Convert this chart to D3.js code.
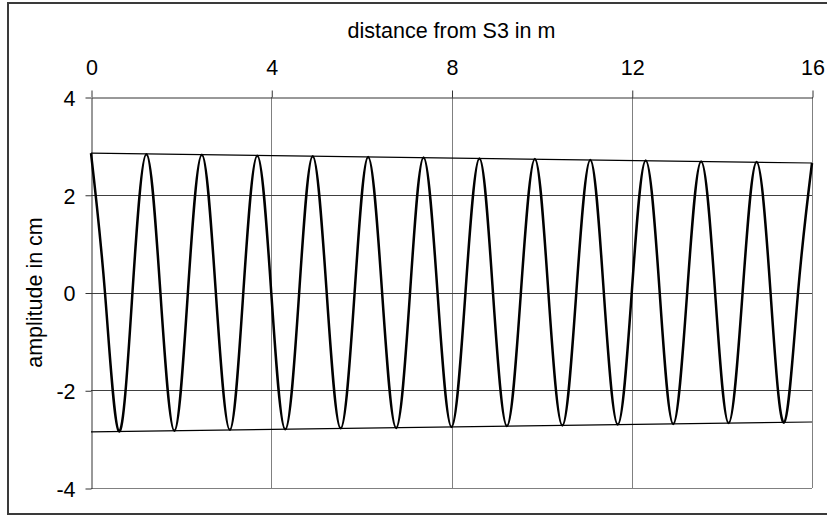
<!DOCTYPE html>
<html>
<head>
<meta charset="utf-8">
<script src="https://cdn.jsdelivr.net/npm/d3@7/dist/d3.min.js"></script>
<style>
  body { margin: 0; background: #fff; }
  text { font-family: "Liberation Sans", Arial, sans-serif; fill: #000; }
</style>
</head>
<body>
<svg id="chart" width="827" height="518"></svg>
<script>
// crests, zero crossings and troughs of the wave
const distance = [
  0, 0.31, 0.62, 0.92, 1.23, 1.54, 1.85, 2.15, 2.46, 2.77, 3.08, 3.38, 3.69,
  4.00, 4.31, 4.62, 4.92, 5.23, 5.54, 5.85, 6.15, 6.46, 6.77, 7.08, 7.38, 7.69,
  8.00, 8.31, 8.62, 8.92, 9.23, 9.54, 9.85, 10.15, 10.46, 10.77, 11.08, 11.38, 11.69,
  12.00, 12.31, 12.62, 12.92, 13.23, 13.54, 13.85, 14.15, 14.46, 14.77, 15.08, 15.38, 15.69,
  16.00
];
const amplitude = [
  2.85, 0, -2.84, 0, 2.83, 0, -2.83, 0, 2.82, 0, -2.81, 0, 2.80,
  0, -2.80, 0, 2.79, 0, -2.78, 0, 2.77, 0, -2.77, 0, 2.76, 0,
  -2.75, 0, 2.74, 0, -2.73, 0, 2.73, 0, -2.72, 0, 2.71, 0, -2.70,
  0, 2.70, 0, -2.69, 0, 2.68, 0, -2.67, 0, 2.67, 0, -2.66, 0,
  2.65
];
const envDistance = [0, 16];
const envUpper = [2.85, 2.65];
const envLower = [-2.85, -2.65];
const xTicks = [0, 4, 8, 12, 16];
const yTicks = [-4, -2, 0, 2, 4];

const svg = d3.select('#chart');
const plotLeft = 91, plotRight = 812, plotTop = 97, plotBottom = 488;

// outer frame
svg.append('rect')
  .attr('x', 8).attr('y', 3)
  .attr('width', 830).attr('height', 511)
  .attr('fill', 'none')
  .attr('stroke', '#3a3a3a')
  .attr('stroke-width', 2);

const x = d3.scaleLinear().domain([0, 16]).range([plotLeft, plotRight]);
const y = d3.scaleLinear().domain([-4, 4]).range([plotBottom, plotTop]);

// grid
svg.append('g')
  .selectAll('line')
  .data(xTicks.slice(1))
  .enter()
  .append('line')
  .attr('x1', d => Math.round(x(d)) + 0.5).attr('x2', d => Math.round(x(d)) + 0.5)
  .attr('y1', plotTop).attr('y2', plotBottom)
  .attr('stroke', '#808080');

svg.append('g')
  .selectAll('line')
  .data(yTicks.slice(0, -1))
  .enter()
  .append('line')
  .attr('x1', plotLeft).attr('x2', plotRight)
  .attr('y1', d => Math.round(y(d)) + 0.5).attr('y2', d => Math.round(y(d)) + 0.5)
  .attr('stroke', d => d === -4 ? '#808080' : '#404040');

// X Axis (top)
const xAxis = svg.append('g')
  .attr('transform', `translate(0.5, ${plotTop + 0.5})`)
  .call(d3.axisTop(x).tickValues(xTicks).tickSize(7).tickSizeOuter(0).tickPadding(16)
    .tickFormat(d => String(d)));

// Y Axis (plain hyphen for negatives, like the original)
const yAxis = svg.append('g')
  .attr('transform', `translate(${plotLeft + 0.5}, 0.5)`)
  .call(d3.axisLeft(y).tickValues(yTicks).tickSize(6).tickSizeOuter(0).tickPadding(10)
    .tickFormat(d => String(d)));

[xAxis, yAxis].forEach(g => {
  g.selectAll('path.domain').attr('stroke', '#333');
  g.selectAll('line').attr('stroke', '#333');
  g.selectAll('text')
    .style('font-size', '21.5px')
    .attr('fill', '#000');
});
yAxis.selectAll('text').attr('dy', '0.36em');

// envelope
const env = d3.line().x(d => x(d[0])).y(d => y(d[1]));
[envUpper, envLower].forEach(vals => {
  svg.append('path')
    .attr('d', env(envDistance.map((d, i) => [d, vals[i]])))
    .attr('fill', 'none')
    .attr('stroke', '#000')
    .attr('stroke-width', 1.2);
});

// wave
const wave = d3.line()
  .x(d => x(d[0]))
  .y(d => y(d[1]))
  .curve(d3.curveNatural);
svg.append('path')
  .attr('d', wave(distance.map((d, i) => [d, amplitude[i]])))
  .attr('fill', 'none')
  .attr('stroke', '#000')
  .attr('stroke-width', 2.5);

// titles
svg.append('text')
  .attr('x', (plotLeft + plotRight) / 2)
  .attr('y', 38)
  .attr('text-anchor', 'middle')
  .style('font-size', '21.5px')
  .text('distance from S3 in m');

svg.append('text')
  .attr('transform', `translate(42, ${(plotTop + plotBottom) / 2}) rotate(-90)`)
  .attr('text-anchor', 'middle')
  .style('font-size', '21.5px')
  .text('amplitude in cm');
</script>
</body>
</html>
